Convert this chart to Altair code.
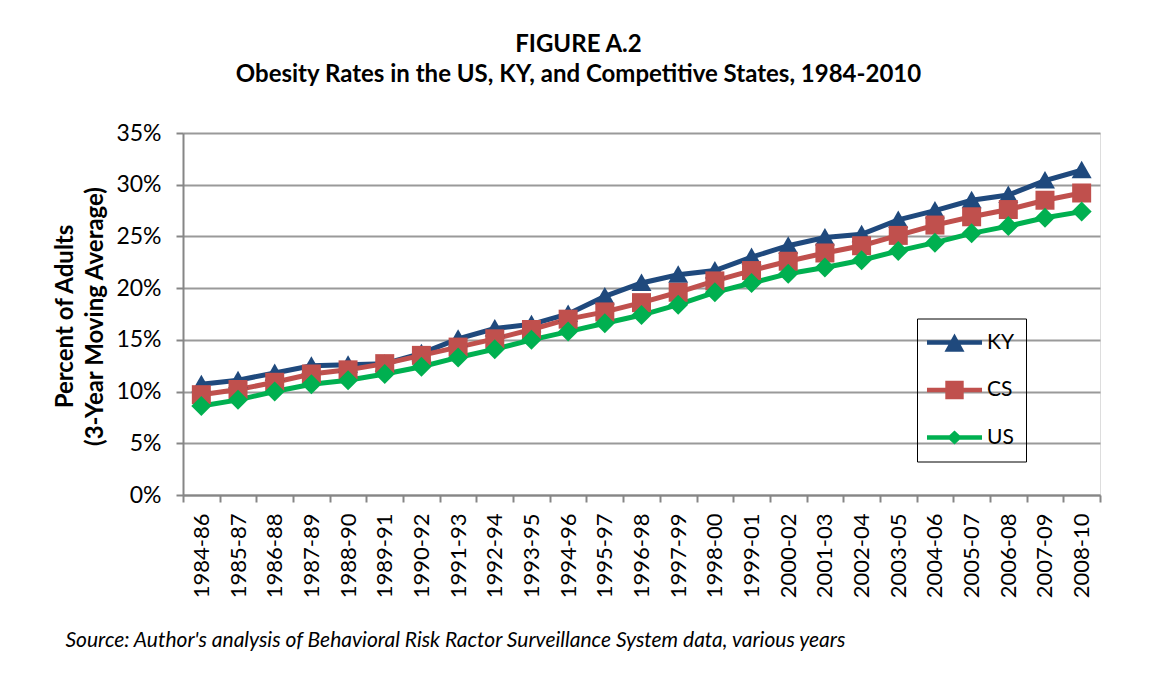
import altair as alt
import pandas as pd

periods = ["1984-86", "1985-87", "1986-88", "1987-89", "1988-90", "1989-91",
           "1990-92", "1991-93", "1992-94", "1993-95", "1994-96", "1995-97",
           "1996-98", "1997-99", "1998-00", "1999-01", "2000-02", "2001-03",
           "2002-04", "2003-05", "2004-06", "2005-07", "2006-08", "2007-09",
           "2008-10"]
ky = [10.7, 11.1, 11.8, 12.5, 12.6, 12.7, 13.7, 15.1, 16.1, 16.5, 17.5, 19.2,
      20.5, 21.3, 21.7, 23.0, 24.1, 24.9, 25.2, 26.6, 27.5, 28.5, 29.0, 30.4, 31.4]
cs = [9.7, 10.2, 10.9, 11.7, 12.1, 12.7, 13.5, 14.3, 15.1, 16.0, 17.0, 17.7,
      18.6, 19.6, 20.7, 21.7, 22.6, 23.4, 24.1, 25.1, 26.1, 26.9, 27.6, 28.5, 29.2]
us = [8.6, 9.2, 10.0, 10.7, 11.1, 11.7, 12.4, 13.3, 14.1, 15.0, 15.8, 16.6,
      17.4, 18.4, 19.6, 20.5, 21.4, 22.0, 22.7, 23.6, 24.4, 25.3, 26.0, 26.8, 27.4]

series_names = ["KY", "CS", "US"]
series_colors = ["#1F497D", "#C0504D", "#00B050"]
y_ticks = [0, 5, 10, 15, 20, 25, 30, 35]

rows = []
for name, vals in zip(series_names, [ky, cs, us]):
    for p, v in zip(periods, vals):
        rows.append({"period": p, "series": name, "value": v})
df = pd.DataFrame(rows)

FONT = "Lato"

# marker shapes for the plot (custom paths)
marker_paths = [
    "M0,-0.95L1,0.8L-1,0.8Z",
    "M-0.95,-0.95L0.95,-0.95L0.95,0.95L-0.95,0.95Z",
    "M0,-1L1,0L0,1L-1,0Z",
]
# legend symbols: line segment plus marker (+ invisible extent points)
_line = "M-0.609,-0.1L1.783,-0.1L1.783,0.1L-0.609,0.1Z"
_extent = "M3.65,0L3.65,0M0,1.0L0,1.0"
legend_paths = [
    _line + "M0.587,-0.39L1.022,0.4L0.152,0.4Z" + _extent,
    _line + "M0.187,-0.4L0.987,-0.4L0.987,0.4L0.187,0.4Z" + _extent,
    _line + "M0.587,-0.3L0.913,0L0.587,0.3L0.261,0Z" + _extent,
]
fill_expr = "".join(
    f"datum.value === '{n}' ? '{c}' : " for n, c in zip(series_names[:-1], series_colors[:-1])
) + f"'{series_colors[-1]}'"

x_enc = alt.X(
    "period:N",
    sort=periods,
    bandPosition=0.5,
    scale=alt.Scale(type="band", paddingInner=0, paddingOuter=0),
    axis=alt.Axis(
        title="Source: Author's analysis of Behavioral Risk Ractor Surveillance System data, various years",
        titleX=-118, titleY=145, titleAlign="left", titleBaseline="middle",
        titleFont=FONT, titleFontSize=21, titleFontStyle="italic",
        titleFontWeight="normal", titleColor="#000000",
        labelAngle=270, labelAlign="right", labelBaseline="middle",
        labelFont=FONT, labelFontSize=22, labelColor="#000000", labelPadding=11,
        tickBand="extent", tickSize=7, tickColor="#868686", tickWidth=2,
        domainColor="#868686", domainWidth=2, grid=False,
    ),
)
y_enc = alt.Y(
    "value:Q",
    scale=alt.Scale(domain=[0, 35], nice=False),
    axis=alt.Axis(
        values=y_ticks, labelExpr="datum.value + '%'",
        title=["Percent of Adults", "(3-Year Moving Average)"],
        titleX=-118, titleY=183, titleAngle=270, titleAlign="center",
        titleBaseline="middle", titleLineHeight=30,
        titleFont=FONT, titleFontSize=24, titleFontWeight="bold",
        titleColor="#000000",
        labelFont=FONT, labelFontSize=23, labelColor="#000000", labelPadding=15,
        tickSize=7, tickColor="#868686", tickWidth=2,
        domainColor="#868686", domainWidth=2,
        grid=True, gridColor="#9a9a9a", gridWidth=2,
    ),
)
color_scale = alt.Scale(domain=series_names, range=series_colors)

base = alt.Chart(df)

lines = base.mark_line(strokeWidth=5).encode(
    x=x_enc, y=y_enc,
    color=alt.Color("series:N", scale=color_scale, legend=None),
    detail="series:N",
)
markers = base.mark_point(filled=True, opacity=1, size=400).encode(
    x=x_enc, y=y_enc,
    color=alt.Color("series:N", scale=color_scale, legend=None),
    shape=alt.Shape("series:N", scale=alt.Scale(domain=series_names, range=marker_paths), legend=None),
)
legend_layer = base.mark_point(filled=True, opacity=0).encode(
    x=x_enc, y=y_enc,
    color=alt.Color("series:N", scale=color_scale, legend=None),
    shape=alt.Shape(
        "series:N",
        scale=alt.Scale(domain=series_names, range=legend_paths),
        legend=alt.Legend(
            title=None, orient="none", legendX=734, legendY=185.5,
            symbolSize=2116, symbolOpacity=1, symbolStrokeWidth=0,
            symbolFillColor=alt.ExprRef(fill_expr),
            labelFont=FONT, labelFontSize=21, labelColor="#000000",
            labelOffset=23, rowPadding=1.5,
            padding=1, strokeColor="#000000",
        ),
    ),
)

chart = (
    alt.layer(lines, markers, legend_layer)
    .resolve_scale(shape="independent")
    .properties(
        width=917, height=362,
        autosize=alt.AutoSizeParams(type="none"),
        padding={"left": 175, "top": 125, "right": 40, "bottom": 160},
        title=alt.TitleParams(
            text=["FIGURE A.2", "Obesity Rates in the US, KY, and Competitive States, 1984-2010"],
            font=FONT, fontSize=24, fontWeight="bold", color="#000000",
            anchor="middle", dx=-63, offset=35, lineHeight=30,
        ),
    )
    .configure_view(stroke=None)
    .configure_legend(strokeWidth=2)
    .configure(background="#ffffff")
)

chart.save("out.html", embed_options={"renderer": "svg", "actions": False})
